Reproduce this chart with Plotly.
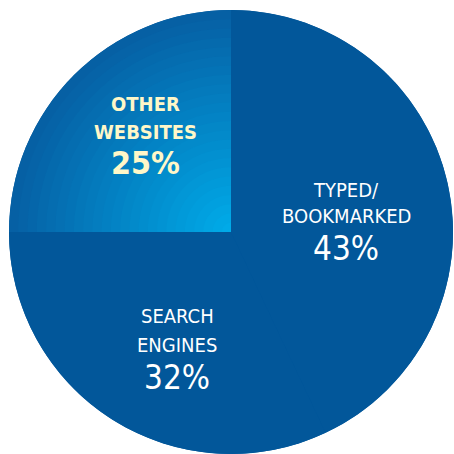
import plotly.graph_objects as go

# ---- data ----
labels = ["TYPED/ BOOKMARKED", "SEARCH ENGINES", "OTHER WEBSITES"]
label_lines = [["TYPED/", "BOOKMARKED"], ["SEARCH", "ENGINES"], ["OTHER", "WEBSITES"]]
values = [43, 32, 25]

# ---- styles ----
W = H = 454
DARK = "#02579a"
GRAD_RIM = (6, 96, 164)     # darker outer colour of the highlighted slice
GRAD_CORE = (0, 170, 232)   # light inner colour of the highlighted slice
cx, cy, R = 231 / W, (H - 232) / H, 222 / W

def dom(scale):
    r = R * scale
    return dict(x=[cx - r, cx + r], y=[cy - r, cy + r])

def mix(t):
    c = [round(a + (b - a) * t) for a, b in zip(GRAD_RIM, GRAD_CORE)]
    return f"rgb({c[0]},{c[1]},{c[2]})"

fig = go.Figure()
# solid backing disc so no seam shows between the dark slices
fig.add_trace(go.Pie(
    labels=["all"], values=[sum(values)], marker=dict(colors=[DARK], line=dict(width=0)),
    textinfo="none", hoverinfo="skip", domain=dom(1.0), showlegend=False,
))
fig.add_trace(go.Pie(
    labels=labels, values=values, sort=False, direction="clockwise", rotation=0,
    marker=dict(colors=[DARK, DARK, mix(0)], line=dict(width=0)),
    textinfo="none", hoverinfo="label+percent", domain=dom(1.0), showlegend=False,
))
# layered rings to imitate the gradient of the highlighted slice
N = 24
for i in range(1, N):
    s = 1 - i / N
    fig.add_trace(go.Pie(
        labels=labels, values=values, sort=False, direction="clockwise", rotation=0,
        marker=dict(colors=["rgba(0,0,0,0)", "rgba(0,0,0,0)", mix(i / (N - 1))],
                    line=dict(width=0)),
        textinfo="none", hoverinfo="skip", domain=dom(s), showlegend=False,
    ))

FONT = "DejaVu Sans Condensed, sans-serif"
# label placement (pixel centres) for each slice: (x, line1 y, line2 y, pct y)
pos = [(346, 190, 215.5, 248.5), (177, 315.5, 345, 377), (145, 104.5, 131.5, 163.5)]
styles = [
    dict(color="white", lsize=20, psize=33, bold=False),
    dict(color="white", lsize=20, psize=33, bold=False),
    dict(color="#fff7c8", lsize=20, psize=32, bold=True),
]
for lines, v, p, st in zip(label_lines, values, pos, styles):
    x, y1, y2, y3 = p
    texts = [(lines[0], y1, st["lsize"]), (lines[1], y2, st["lsize"]), (f"{v}%", y3, st["psize"])]
    for t, y, size in texts:
        fig.add_annotation(
            x=x / W, y=1 - y / H, xref="paper", yref="paper",
            text=f"<b>{t}</b>" if st["bold"] else t,
            showarrow=False, xanchor="center", yanchor="middle",
            font=dict(family=FONT, size=size, color=st["color"]),
        )

fig.update_layout(
    width=W, height=H, margin=dict(l=0, r=0, t=0, b=0),
    paper_bgcolor="white", plot_bgcolor="white", showlegend=False,
)
fig.write_html("out.html")
